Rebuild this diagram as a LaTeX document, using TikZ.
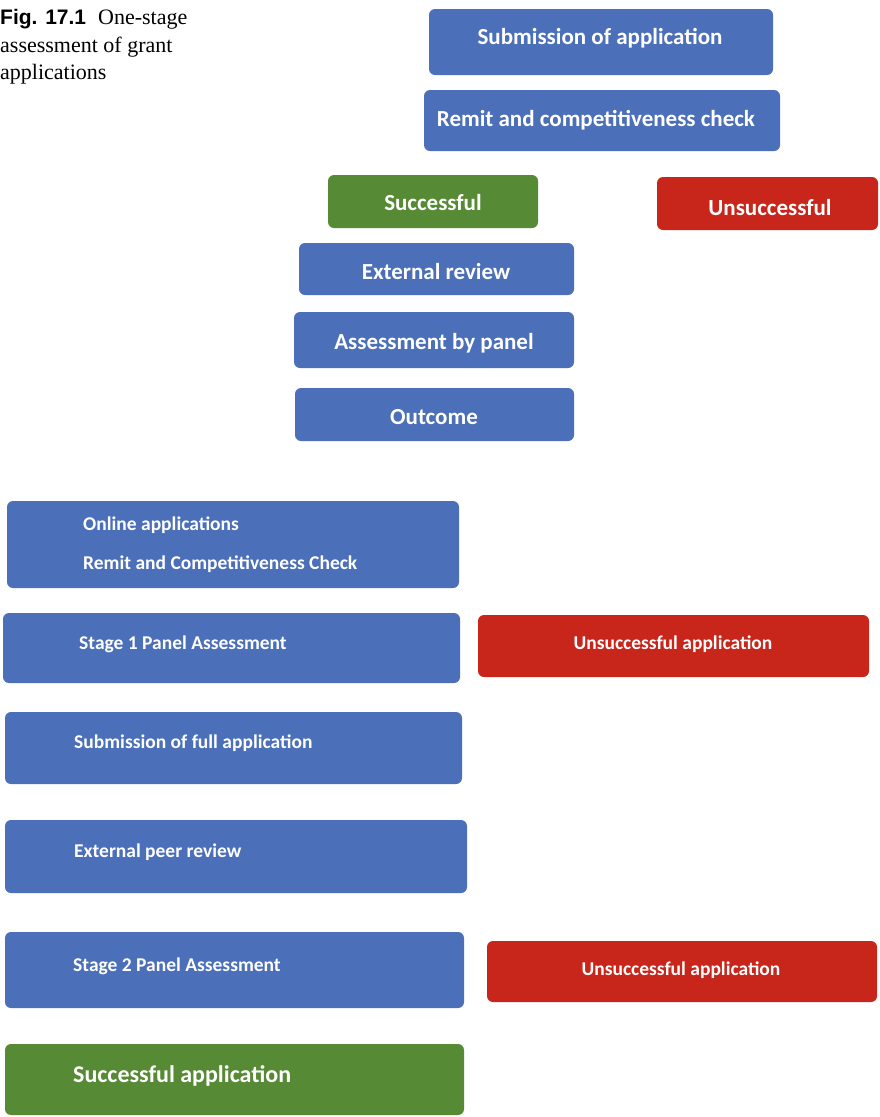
\documentclass[tikz,border=0pt]{standalone}
\usepackage{fontspec}
\setmainfont{Liberation Serif}
\newfontfamily\boxfont{Carlito}
\newfontfamily\capfont{Liberation Sans}
\usetikzlibrary{calc}

\definecolor{boxblue}{HTML}{4B6FB8}
\definecolor{boxgreen}{HTML}{568A34}
\definecolor{boxred}{HTML}{C8251B}

\tikzset{
  box/.style={rounded corners=6pt,inner sep=0pt,draw=none},
  bluebox/.style={box,fill=boxblue},
  greenbox/.style={box,fill=boxgreen},
  redbox/.style={box,fill=boxred},
  txt/.style={text=white,inner sep=0pt},
  bigtxt/.style={txt,anchor=base,font=\boxfont\bfseries\fontsize{23}{27}\selectfont},
  smalltxt/.style={txt,anchor=base west,font=\boxfont\bfseries\fontsize{19.5}{23}\selectfont},
  captxt/.style={inner sep=0pt,anchor=base west,font=\fontsize{22}{26}\selectfont},
}

\begin{document}
\begin{tikzpicture}[x=1pt,y=-1pt]
  \useasboundingbox (0,0) rectangle (880,1117);

  % caption
  \node[captxt] (cap1) at (0,24) {{\capfont\bfseries\fontsize{21}{25}\selectfont Fig. 17.1}\hspace{12pt}One-stage};
  \node[captxt] (cap2) at (0,52) {assessment of grant};
  \node[captxt] (cap3) at (0,79) {applications};

  % one-stage assessment
  \node[bluebox,minimum width=344pt,minimum height=66pt] (sub) at (601,42) {};
  \node[bigtxt] (subt) at (600,44) {Submission of application};
  \node[bluebox,minimum width=356pt,minimum height=61pt] (rem) at (602,120.5) {};
  \node[bigtxt] (remt) at (596,126) {Remit and competitiveness check};
  \node[greenbox,minimum width=210pt,minimum height=53pt] (suc) at (433,201.5) {};
  \node[bigtxt] (suct) at (433,210) {Successful};
  \node[redbox,minimum width=221pt,minimum height=53pt] (uns) at (767.5,203.5) {};
  \node[bigtxt] (unst) at (770,215) {Unsuccessful};
  \node[bluebox,minimum width=275pt,minimum height=52pt] (ext) at (436.5,269) {};
  \node[bigtxt] (extt) at (436,279) {External review};
  \node[bluebox,minimum width=280pt,minimum height=56pt] (pan) at (434,340) {};
  \node[bigtxt] (pant) at (434,349) {Assessment by panel};
  \node[bluebox,minimum width=279pt,minimum height=53pt] (out) at (434.5,414.5) {};
  \node[bigtxt] (outt) at (434,424) {Outcome};

  % two-stage assessment
  \node[bluebox,minimum width=452pt,minimum height=87pt] (onl) at (233,544.5) {};
  \node[smalltxt] (onlt1) at (83,530) {Online applications};
  \node[smalltxt] (onlt2) at (83,569) {Remit and Competitiveness Check};
  \node[bluebox,minimum width=457pt,minimum height=70pt] (st1) at (231.5,648) {};
  \node[smalltxt] (st1t) at (79,649) {Stage 1 Panel Assessment};
  \node[redbox,minimum width=391pt,minimum height=62pt] (un1) at (673.5,646) {};
  \node[smalltxt,anchor=base] (un1t) at (673,649) {Unsuccessful application};
  \node[bluebox,minimum width=457pt,minimum height=72pt] (sfa) at (233.5,748) {};
  \node[smalltxt] (sfat) at (74,748) {Submission of full application};
  \node[bluebox,minimum width=462pt,minimum height=73pt] (epr) at (236,856.5) {};
  \node[smalltxt] (eprt) at (74,857) {External peer review};
  \node[bluebox,minimum width=459pt,minimum height=76pt] (st2) at (234.5,970) {};
  \node[smalltxt] (st2t) at (73,971) {Stage 2 Panel Assessment};
  \node[redbox,minimum width=390pt,minimum height=61pt] (un2) at (682,971.5) {};
  \node[smalltxt,anchor=base] (un2t) at (681,975) {Unsuccessful application};
  \node[greenbox,minimum width=459pt,minimum height=71pt] (sap) at (234.5,1079.5) {};
  \node[bigtxt,anchor=base west,font=\boxfont\bfseries\fontsize{24}{28}\selectfont] (sapt) at (73,1082) {Successful application};
\end{tikzpicture}
\end{document}
